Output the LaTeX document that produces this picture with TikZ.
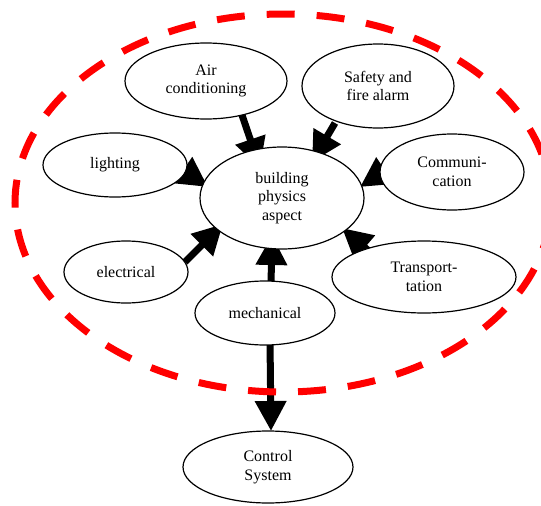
\documentclass[tikz,border=0pt]{standalone}
\usepackage{fontspec}
\setmainfont{Liberation Serif}
\usetikzlibrary{shapes.geometric,arrows.meta}
\pgfdeclarelayer{bg}
\pgfsetlayers{bg,main}
\begin{document}
\begin{tikzpicture}[x=1pt,y=-1pt,
  bubble/.style={ellipse,draw=black,line width=1.2pt,fill=white,inner sep=0pt,align=center,font=\fontsize{16}{18.5}\selectfont},
  edge/.style={line width=7pt,-{Triangle[length=30pt,width=30pt]}},
  zone/.style={draw=red,line width=7pt,dash pattern=on 28pt off 22pt}]
\useasboundingbox (0,0) rectangle (541,506);
\clip (0,0) rectangle (541,506);
\node[bubble,minimum width=164pt,minimum height=102pt] (core) at (282,198) {building\\physics\\aspect};
\node[bubble,minimum width=162pt,minimum height=76pt] (air) at (206,81) {Air\\conditioning};
\node[bubble,minimum width=152pt,minimum height=84pt] (safety) at (378,86) {Safety and\\fire alarm};
\node[bubble,minimum width=144pt,minimum height=64pt] (light) at (115,165) {lighting};
\node[bubble,minimum width=144pt,minimum height=76pt] (comm) at (452,172) {Communi-\\cation};
\node[bubble,minimum width=124pt,minimum height=62pt] (elec) at (126,272) {electrical};
\node[bubble,minimum width=184pt,minimum height=72pt] (trans) at (424,277) {Transport-\\tation};
\node[bubble,minimum width=140pt,minimum height=64pt] (mech) at (265,313) {mechanical};
\node[bubble,minimum width=170pt,minimum height=72pt] (ctrl) at (268,467) {Control\\System};
\begin{pgfonlayer}{bg}
\draw[edge] ([shift={(36,34)}]air.center) -- ([shift={(-22,-30)}]core.center);
\draw[edge] ([shift={(-43,37)}]safety.center) -- ([shift={(30,-36)}]core.center);
\draw[edge] ([shift={(52,-6)}]light.center) -- ([shift={(-74,-11)}]core.center);
\draw[edge] ([shift={(-51,-12)}]comm.center) -- ([shift={(78,-11)}]core.center);
\draw[edge] ([shift={(59,-10)}]elec.center) -- ([shift={(-59,26)}]core.center);
\draw[edge] ([shift={(-40,-13)}]trans.center) -- ([shift={(60,30)}]core.center);
\draw[edge] ([shift={(6,-28)}]mech.center) -- ([shift={(-10,37)}]core.center);
\draw[edge] ([shift={(5,27)}]mech.center) -- ([shift={(3,-36)}]ctrl.center);
\end{pgfonlayer}
\draw[zone] (283,203) ellipse [x radius=268pt, y radius=189pt];
\end{tikzpicture}
\end{document}
